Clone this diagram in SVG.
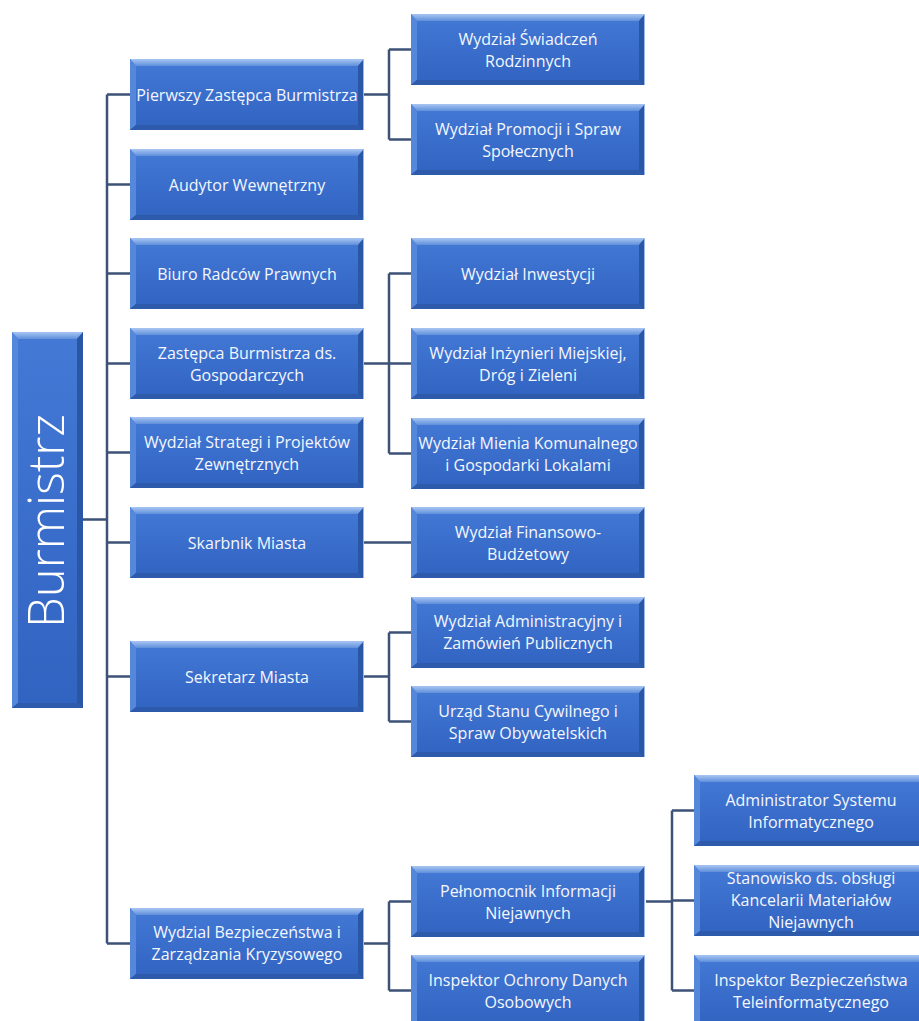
<svg xmlns="http://www.w3.org/2000/svg" xmlns:xlink="http://www.w3.org/1999/xlink" width="919" height="1021" viewBox="0 0 919 1021">
<style>
.t{font-family:"Open Sans","Noto Sans","DejaVu Sans",sans-serif;font-size:16px;fill:#f4f7fd;text-anchor:middle;dominant-baseline:central}
.big{font-family:"Open Sans","Noto Sans","DejaVu Sans",sans-serif;font-size:49px;font-weight:300;fill:#ffffff;text-anchor:middle}
.c{fill:none;stroke:#3d5277;stroke-width:2.5}
</style>
<defs>
<linearGradient id="body" x1="0" y1="0" x2="0" y2="1">
<stop offset="0" stop-color="#4479d6"/>
<stop offset="1" stop-color="#3163c1"/>
</linearGradient>
<linearGradient id="topb" x1="0" y1="0" x2="0" y2="1">
<stop offset="0" stop-color="#a9c6f2"/>
<stop offset="1" stop-color="#5f8fdc"/>
</linearGradient>
<g id="bx">
<rect x="0" y="0" width="234" height="71" fill="url(#body)"/>
<polygon points="0,0 234,0 228,7 6,7" fill="url(#topb)"/>
<polygon points="0,0 6,7 6,66 0,71" fill="#5587da"/>
<polygon points="234,0 234,71 228,66 228,7" fill="#2a56a6"/>
<polygon points="0,71 6,66 228,66 234,71" fill="#2d5aab"/>
<line x1="233.5" y1="0" x2="233.5" y2="71" stroke="#9db8e6" stroke-width="1"/>
</g>
</defs>
<rect width="919" height="1021" fill="#ffffff"/>

<g id="connectors">
<path class="c" d="M83,519.5 H107 M107,94.5 V943.5 M107,94.5 H130 M107,184.5 H130 M107,273.5 H130 M107,363.5 H130 M107,452.5 H130 M107,542.5 H130 M107,676.5 H130 M107,943.5 H130"/>
<path class="c" d="M364,94.5 H389 M389,49.5 V139.5 M389,49.5 H411 M389,139.5 H411"/>
<path class="c" d="M364,363.5 H389 M389,273.5 V453.5 M389,273.5 H411 M389,363.5 H411 M389,453.5 H411"/>
<path class="c" d="M364,542.5 H411"/>
<path class="c" d="M364,676.5 H389 M389,632.5 V721.5 M389,632.5 H411 M389,721.5 H411"/>
<path class="c" d="M364,943.5 H389 M389,901.5 V990.5 M389,901.5 H411 M389,990.5 H411"/>
<path class="c" d="M646,901.5 H672 M672,810.5 V990.5 M672,810.5 H694 M672,900.5 H694 M672,990.5 H694"/>
</g>

<g id="n-burmistrz">
<rect x="12" y="332" width="71" height="376" fill="url(#body)"/>
<polygon points="12,332 83,332 77,339 18,339" fill="url(#topb)"/>
<polygon points="12,332 18,339 18,703 12,708" fill="#5587da"/>
<polygon points="83,332 83,708 77,703 77,339" fill="#2a56a6"/>
<polygon points="12,708 18,703 77,703 83,708" fill="#2d5aab"/>
<text class="big" x="64" y="521" transform="rotate(-90 64 521)">Burmistrz</text>
</g>

<g id="n-pierwszy"><use href="#bx" x="130" y="59"/><text class="t" x="247" y="94.5">Pierwszy Zastępca Burmistrza</text></g>
<g id="n-audytor"><use href="#bx" x="130" y="149"/><text class="t" x="247" y="184.5">Audytor Wewnętrzny</text></g>
<g id="n-biuro"><use href="#bx" x="130" y="238"/><text class="t" x="247" y="273.5">Biuro Radców Prawnych</text></g>
<g id="n-zastepca"><use href="#bx" x="130" y="328"/><text class="t" x="247" y="352.5">Zastępca Burmistrza ds.</text><text class="t" x="247" y="374.5">Gospodarczych</text></g>
<g id="n-strategi"><use href="#bx" x="130" y="417"/><text class="t" x="247" y="441.5">Wydział Strategi i Projektów</text><text class="t" x="247" y="463.5">Zewnętrznych</text></g>
<g id="n-skarbnik"><use href="#bx" x="130" y="507"/><text class="t" x="247" y="542.5">Skarbnik Miasta</text></g>
<g id="n-sekretarz"><use href="#bx" x="130" y="641"/><text class="t" x="247" y="676.5">Sekretarz Miasta</text></g>
<g id="n-bezpieczenstwa"><use href="#bx" x="130" y="908"/><text class="t" x="247" y="932">Wydzial Bezpieczeństwa i</text><text class="t" x="247" y="954">Zarządzania Kryzysowego</text></g>

<g id="n-swiadczen"><use href="#bx" x="411" y="14"/><text class="t" x="528" y="39">Wydział Świadczeń</text><text class="t" x="528" y="61">Rodzinnych</text></g>
<g id="n-promocji"><use href="#bx" x="411" y="104"/><text class="t" x="528" y="129">Wydział Promocji i Spraw</text><text class="t" x="528" y="151">Społecznych</text></g>
<g id="n-inwestycji"><use href="#bx" x="411" y="238"/><text class="t" x="528" y="273.5">Wydział Inwestycji</text></g>
<g id="n-inzynierii"><use href="#bx" x="411" y="328"/><text class="t" x="528" y="353">Wydział Inżynieri Miejskiej,</text><text class="t" x="528" y="375">Dróg i Zieleni</text></g>
<g id="n-mienia"><use href="#bx" x="411" y="418"/><text class="t" x="528" y="443">Wydział Mienia Komunalnego</text><text class="t" x="528" y="465">i Gospodarki Lokalami</text></g>
<g id="n-finansowo"><use href="#bx" x="411" y="507"/><text class="t" x="528" y="532">Wydział Finansowo-</text><text class="t" x="528" y="554">Budżetowy</text></g>
<g id="n-administracyjny"><use href="#bx" x="411" y="597"/><text class="t" x="528" y="621">Wydział Administracyjny i</text><text class="t" x="528" y="643">Zamówień Publicznych</text></g>
<g id="n-urzad"><use href="#bx" x="411" y="686"/><text class="t" x="528" y="711">Urząd Stanu Cywilnego i</text><text class="t" x="528" y="733">Spraw Obywatelskich</text></g>
<g id="n-pelnomocnik"><use href="#bx" x="411" y="866"/><text class="t" x="528" y="890.5">Pełnomocnik Informacji</text><text class="t" x="528" y="912.5">Niejawnych</text></g>
<g id="n-inspektor-ochrony"><use href="#bx" x="411" y="955"/><text class="t" x="528" y="979.5">Inspektor Ochrony Danych</text><text class="t" x="528" y="1001.5">Osobowych</text></g>

<g id="n-administrator"><use href="#bx" x="694" y="775"/><text class="t" x="811" y="799.5">Administrator Systemu</text><text class="t" x="811" y="821.5">Informatycznego</text></g>
<g id="n-stanowisko"><use href="#bx" x="694" y="865"/><text class="t" x="811" y="878">Stanowisko ds. obsługi</text><text class="t" x="811" y="900">Kancelarii Materiałów</text><text class="t" x="811" y="922">Niejawnych</text></g>
<g id="n-inspektor-bt"><use href="#bx" x="694" y="955"/><text class="t" x="811" y="979.5">Inspektor Bezpieczeństwa</text><text class="t" x="811" y="1001.5">Teleinformatycznego</text></g>
</svg>
